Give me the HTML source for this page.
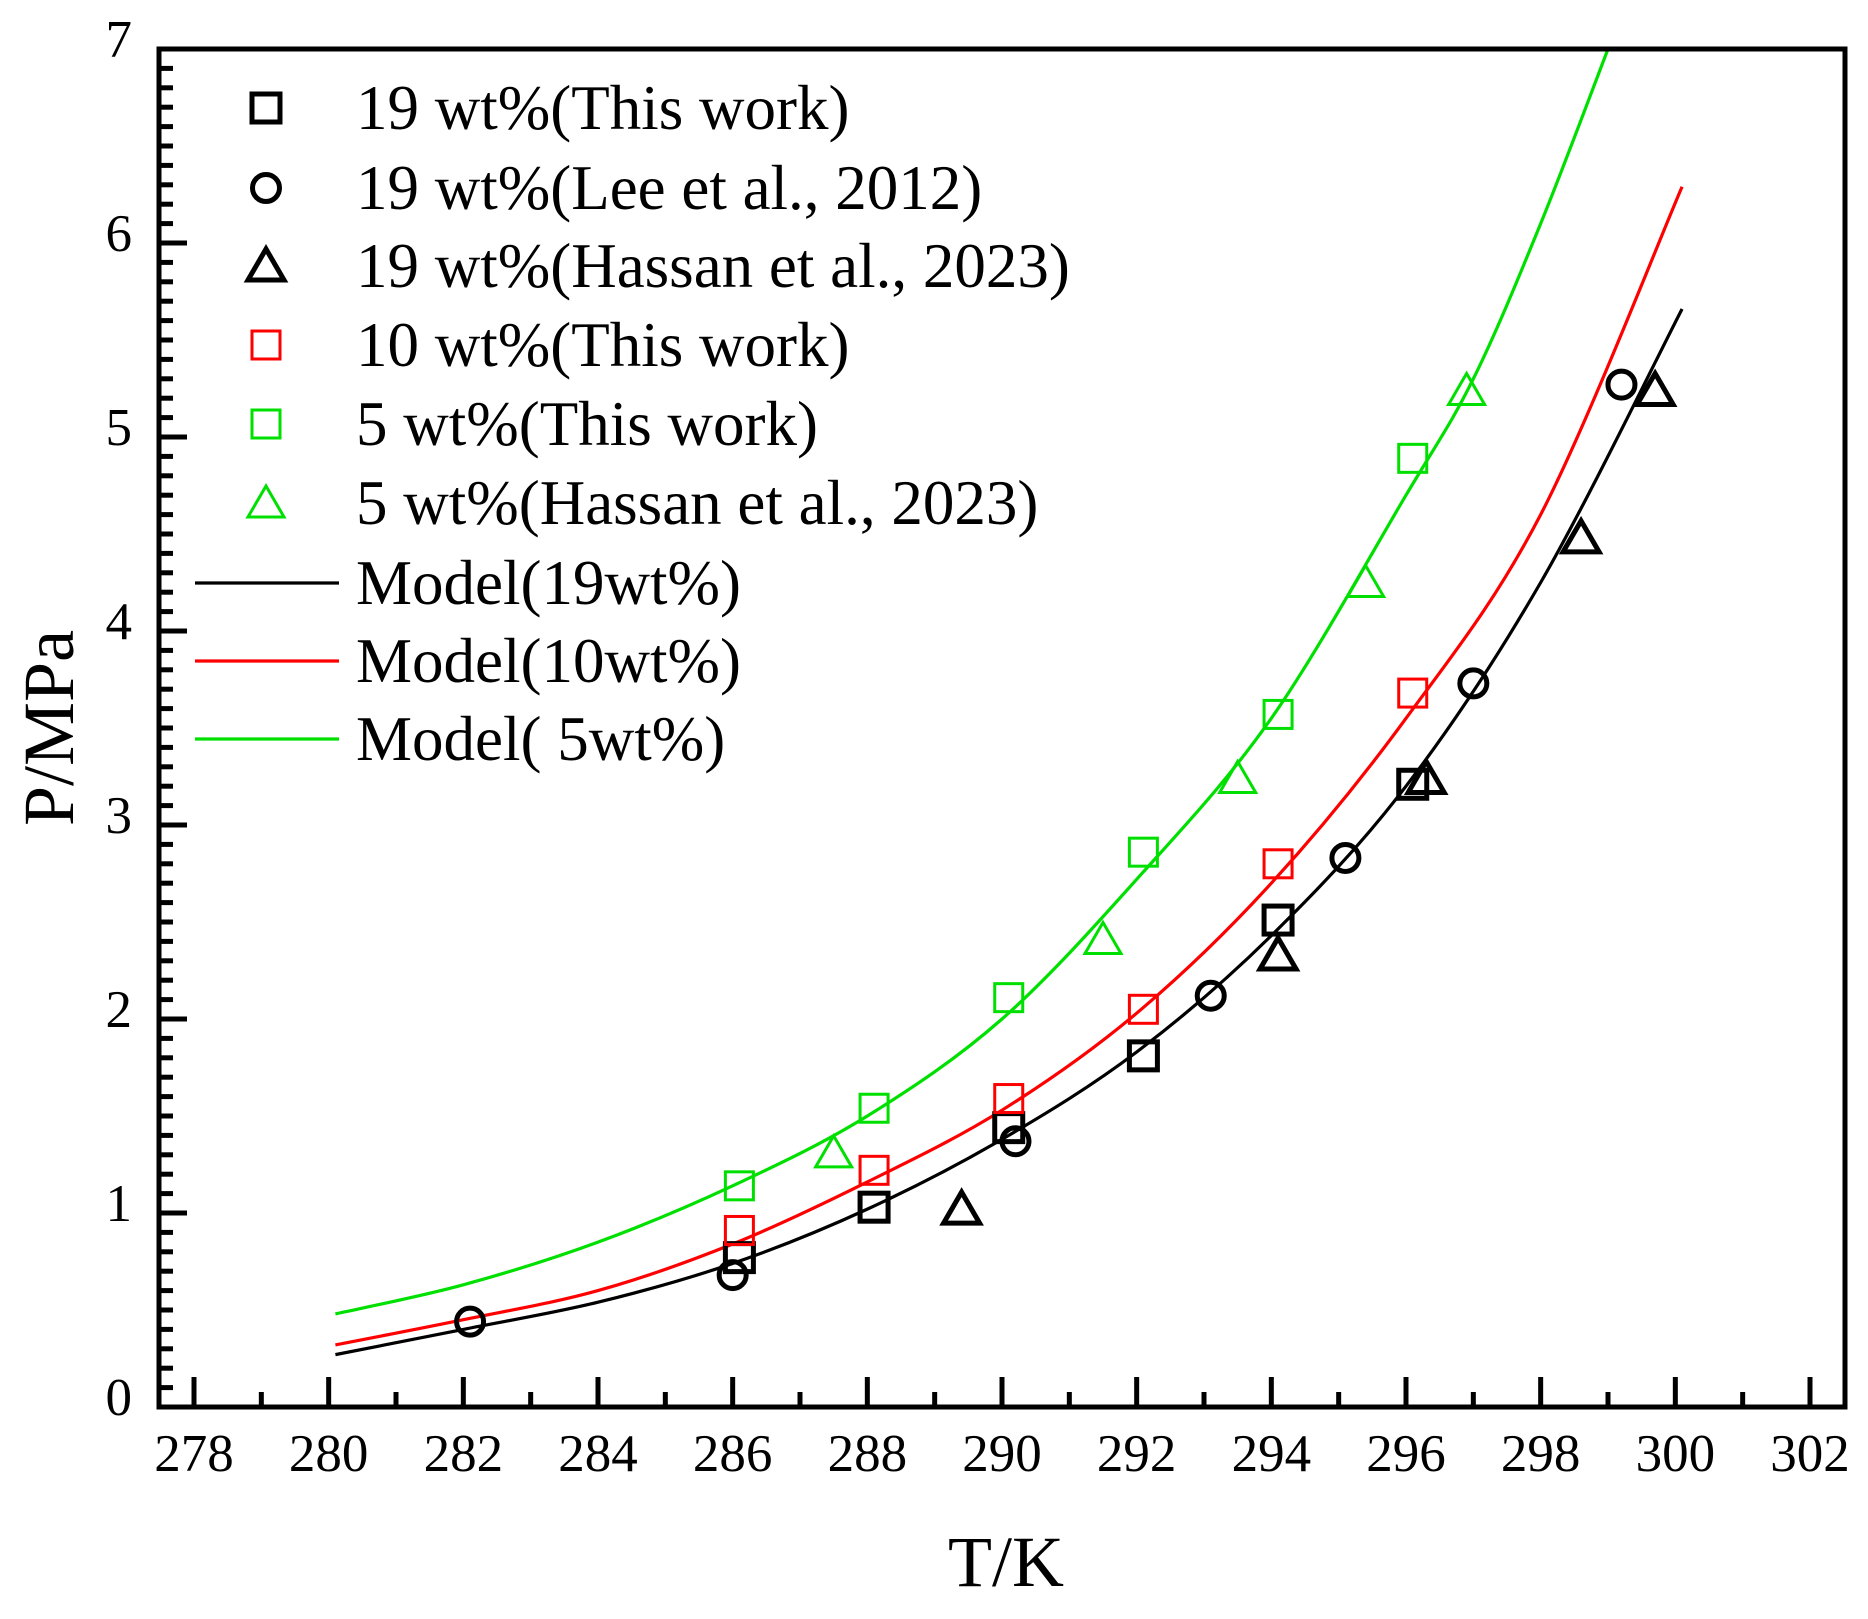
<!DOCTYPE html>
<html><head><meta charset="utf-8"><style>
html,body{margin:0;padding:0;background:#fff;}
svg{display:block;font-family:"Liberation Serif",serif;}
</style></head><body>
<svg id="chart" width="1868" height="1619" viewBox="0 0 1868 1619" xmlns="http://www.w3.org/2000/svg"></svg>
<script>
const xTicks=[278,280,282,284,286,288,290,292,294,296,298,300,302];
const yTicks=[0,1,2,3,4,5,6,7];
const sq19T=[286.1,288.1,290.1,292.1,294.1,296.1];
const sq19P=[0.77,1.03,1.44,1.81,2.51,3.21];
const leeT=[282.1,286.0,290.2,293.1,295.1,297.0,299.2];
const leeP=[0.44,0.68,1.37,2.12,2.83,3.73,5.27];
const tri19T=[289.4,294.1,296.3,298.6,299.7];
const tri19P=[1.02,2.33,3.24,4.48,5.24];
const sq10T=[286.1,288.1,290.1,292.1,294.1,296.1];
const sq10P=[0.91,1.22,1.59,2.05,2.80,3.68];
const sq5T=[286.1,288.1,290.1,292.1,294.1,296.1];
const sq5P=[1.14,1.54,2.11,2.86,3.57,4.89];
const tri5T=[287.5,291.5,293.5,295.4,296.9];
const tri5P=[1.31,2.41,3.24,4.25,5.24];
const m19T=[280.1,282,284,286,288,290,292,294,296,298,300.1];
const m19P=[0.27,0.40,0.54,0.74,1.02,1.38,1.83,2.43,3.20,4.25,5.66];
const m10T=[280.1,282,284,286,288,290,292,294,296,298,300.1];
const m10P=[0.32,0.45,0.60,0.84,1.16,1.53,2.03,2.70,3.55,4.60,6.29];
const m5T=[280.1,282,284,286,288,290,292,294,296,297,298,299];
const m5P=[0.48,0.63,0.85,1.14,1.50,2.00,2.72,3.55,4.70,5.30,6.10,7.00];

const L=159,R=1845,T0=49,B=1407;
const X0=194,X1=1810;
function sx(v){return X0+(v-278)*(X1-X0)/24;}
function sy(v){return B-(v)*(B-T0)/7;}
const svg=document.getElementById('chart');
const NS='http://www.w3.org/2000/svg';
function mk(tag,attrs,parent){const e=document.createElementNS(NS,tag);for(const k in attrs)e.setAttribute(k,attrs[k]);(parent||svg).appendChild(e);return e;}

const defs=mk('defs',{});const cp=mk('clipPath',{id:'clip'},defs);mk('rect',{x:L,y:T0,width:R-L,height:B-T0},cp);

function smoothPath(pts){
  let d='M'+pts[0][0]+','+pts[0][1];
  for(let i=0;i<pts.length-1;i++){
    const p0=pts[i-1]||pts[i],p1=pts[i],p2=pts[i+1],p3=pts[i+2]||p2;
    const c1=[p1[0]+(p2[0]-p0[0])/6,p1[1]+(p2[1]-p0[1])/6];
    const c2=[p2[0]-(p3[0]-p1[0])/6,p2[1]-(p3[1]-p1[1])/6];
    d+=' C'+c1[0]+','+c1[1]+' '+c2[0]+','+c2[1]+' '+p2[0]+','+p2[1];
  }
  return d;
}
function line(xs,ys,color,name){
  const pts=xs.map((x,i)=>[sx(x),sy(ys[i])]);
  const p=mk('path',{d:smoothPath(pts),fill:'none',stroke:color,'stroke-width':3.2,'clip-path':'url(#clip)'});
  
  
}
line(m19T,m19P,'#000','model-19wt-line');
line(m10T,m10P,'#ff0000','model-10wt-line');
line(m5T,m5P,'#00e000','model-5wt-line');

function square(cx,cy,color,sw,parent){return mk('rect',{x:cx-14,y:cy-14,width:28,height:28,fill:'none',stroke:color,'stroke-width':sw},parent);}
function circle(cx,cy,color,sw,parent){return mk('circle',{cx:cx,cy:cy,r:13.5,fill:'none',stroke:color,'stroke-width':sw},parent);}
function tri(cx,cy,color,sw,parent){return mk('polygon',{points:(cx-18)+','+(cy+14)+' '+(cx+18)+','+(cy+14)+' '+cx+','+(cy-17),fill:'none',stroke:color,'stroke-width':sw},parent);}
function series(xs,ys,fn,color,sw,name){
  const g=mk('g',{});
  
  
  xs.forEach((x,i)=>{const m=fn(sx(x),sy(ys[i]),color,sw,g);
    
    });
}
series(sq19T,sq19P,square,'#000',5,'series-19wt-this-work');
series(leeT,leeP,circle,'#000',5,'series-19wt-lee-2012');
series(tri19T,tri19P,tri,'#000',5,'series-19wt-hassan-2023');
series(sq10T,sq10P,square,'#ff0000',3,'series-10wt-this-work');
series(sq5T,sq5P,square,'#00e000',3,'series-5wt-this-work');
series(tri5T,tri5P,tri,'#00e000',3,'series-5wt-hassan-2023');

const frame=mk('rect',{x:L,y:T0,width:R-L,height:B-T0,fill:'none',stroke:'#000','stroke-width':5});



for(let v=278;v<=302;v++){
  const major=(v%2===0);
  mk('line',{x1:sx(v),x2:sx(v),y1:B,y2:B-(major?30:15),stroke:'#000','stroke-width':5});
}
xTicks.forEach(v=>{
  const t=mk('text',{x:sx(v),y:1471,'text-anchor':'middle','font-size':53});
  t.textContent=v;
  
  
});
for(let i=0;i<=70;i++){
  const v=i/10;const major=(i%10===0);
  mk('line',{x1:L,x2:L+(major?28:14),y1:sy(v),y2:sy(v),stroke:'#000','stroke-width':5});
}
yTicks.forEach(v=>{
  const t=mk('text',{x:132,y:sy(v)+8,'text-anchor':'end','font-size':53});
  t.textContent=v;
  
  
});
const xt=mk('text',{x:1006,y:1586,'text-anchor':'middle','font-size':72});
xt.textContent='T/K';


const yt=mk('text',{x:0,y:0,'text-anchor':'middle','font-size':72,transform:'translate(73,728) rotate(-90)'});
yt.textContent='P/MPa';



const lg=mk('g',{});


const legLabels=['19 wt%(This work)','19 wt%(Lee et al., 2012)','19 wt%(Hassan et al., 2023)','10 wt%(This work)','5 wt%(This work)','5 wt%(Hassan et al., 2023)','Model(19wt%)','Model(10wt%)','Model( 5wt%)'];
const legY=[108,188,266,345,424,503,583,661,739];
const mx=266;
[[square,'#000',5],[circle,'#000',5],[tri,'#000',5],[square,'#ff0000',3],[square,'#00e000',3],[tri,'#00e000',3]].forEach((m,i)=>{
  const e=m[0](mx,legY[i],m[1],m[2],lg);
  
  
});
['#000','#ff0000','#00e000'].forEach((c,i)=>{
  const e=mk('line',{x1:195,x2:339,y1:legY[6+i],y2:legY[6+i],stroke:c,'stroke-width':3.2},lg);
  
  
});
legLabels.forEach((s,i)=>{
  const t=mk('text',{x:356,y:legY[i]+21,'font-size':63},lg);
  t.textContent=s;
  
  
});
</script>
</body></html>
